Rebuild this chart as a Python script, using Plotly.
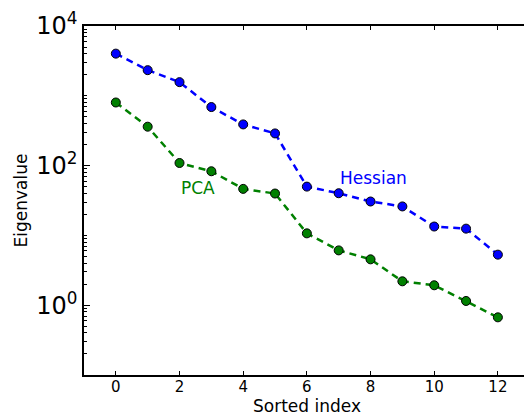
import plotly.graph_objects as go
import numpy as np

idx = list(range(13))
hessian = [4020, 2330, 1570, 690, 389, 289, 50, 40.2, 30.6, 26, 13.4, 12.5, 5.3]
pca = [802, 361, 109, 83, 46.4, 39.8, 10.7, 6.1, 4.54, 2.2, 1.93, 1.15, 0.67]
ytick_vals = [1, 100, 10000]
ytick_text = ["10<sup>0</sup>", "10<sup>2</sup>", "10<sup>4</sup>"]
xtick_vals = [0, 2, 4, 6, 8, 10, 12]

FONT = "DejaVu Sans"

fig = go.Figure()
fig.add_trace(go.Scatter(
    x=idx, y=hessian, mode="lines+markers",
    line=dict(color="#0000ff", width=2.5, dash="7px,5px"),
    marker=dict(color="#0000ff", size=9, line=dict(color="black", width=1)),
    showlegend=False))
fig.add_trace(go.Scatter(
    x=idx, y=pca, mode="lines+markers",
    line=dict(color="#008000", width=2.5, dash="7px,5px"),
    marker=dict(color="#008000", size=9, line=dict(color="black", width=1)),
    showlegend=False))

fig.add_annotation(x=8.1, y=np.log10(67), text="Hessian", showarrow=False,
                   font=dict(family=FONT, size=17, color="#0000ff"))
fig.add_annotation(x=2.58, y=np.log10(48.5), text="PCA", showarrow=False,
                   font=dict(family=FONT, size=17, color="#008000"))
# x-axis title placed directly under the tick labels
fig.add_annotation(x=(307 - 84) / 440, xref="paper", y=-42 / 350, yref="paper",
                   xanchor="center", yanchor="bottom", text="Sorted index",
                   showarrow=False, borderpad=0,
                   font=dict(family=FONT, size=17, color="black"))

minor_vals = []
for k in range(-1, 4):
    for m in range(2, 10):
        minor_vals.append(m * 10 ** k)
minor_vals += [10, 1000]

fig.update_layout(
    width=524, height=416,
    margin=dict(l=84, r=0, t=26, b=41),
    paper_bgcolor="white", plot_bgcolor="white",
    font=dict(family=FONT, color="black"),
    xaxis=dict(
        range=[-1, 12.82], tickvals=xtick_vals,
        ticks="inside", ticklen=4, tickwidth=1, tickcolor="black",
        showline=True, linecolor="black", linewidth=1.5, mirror="ticks",
        showgrid=False, zeroline=False,
        ticklabelstandoff=-3,
        tickfont=dict(size=15, family=FONT),
    ),
    yaxis=dict(
        type="log", range=[-1, 4],
        tickvals=ytick_vals, ticktext=ytick_text,
        ticks="inside", ticklen=6, tickwidth=1, tickcolor="black",
        showline=True, linecolor="black", linewidth=1.5,
        showgrid=False, zeroline=False,
        tickfont=dict(size=24, family=FONT),
        minor=dict(tickvals=minor_vals, ticks="inside", ticklen=3,
                   tickcolor="black", showgrid=False),
        title=dict(text="Eigenvalue", font=dict(size=17, family=FONT), standoff=4),
    ),
)

fig.write_html("out.html")
